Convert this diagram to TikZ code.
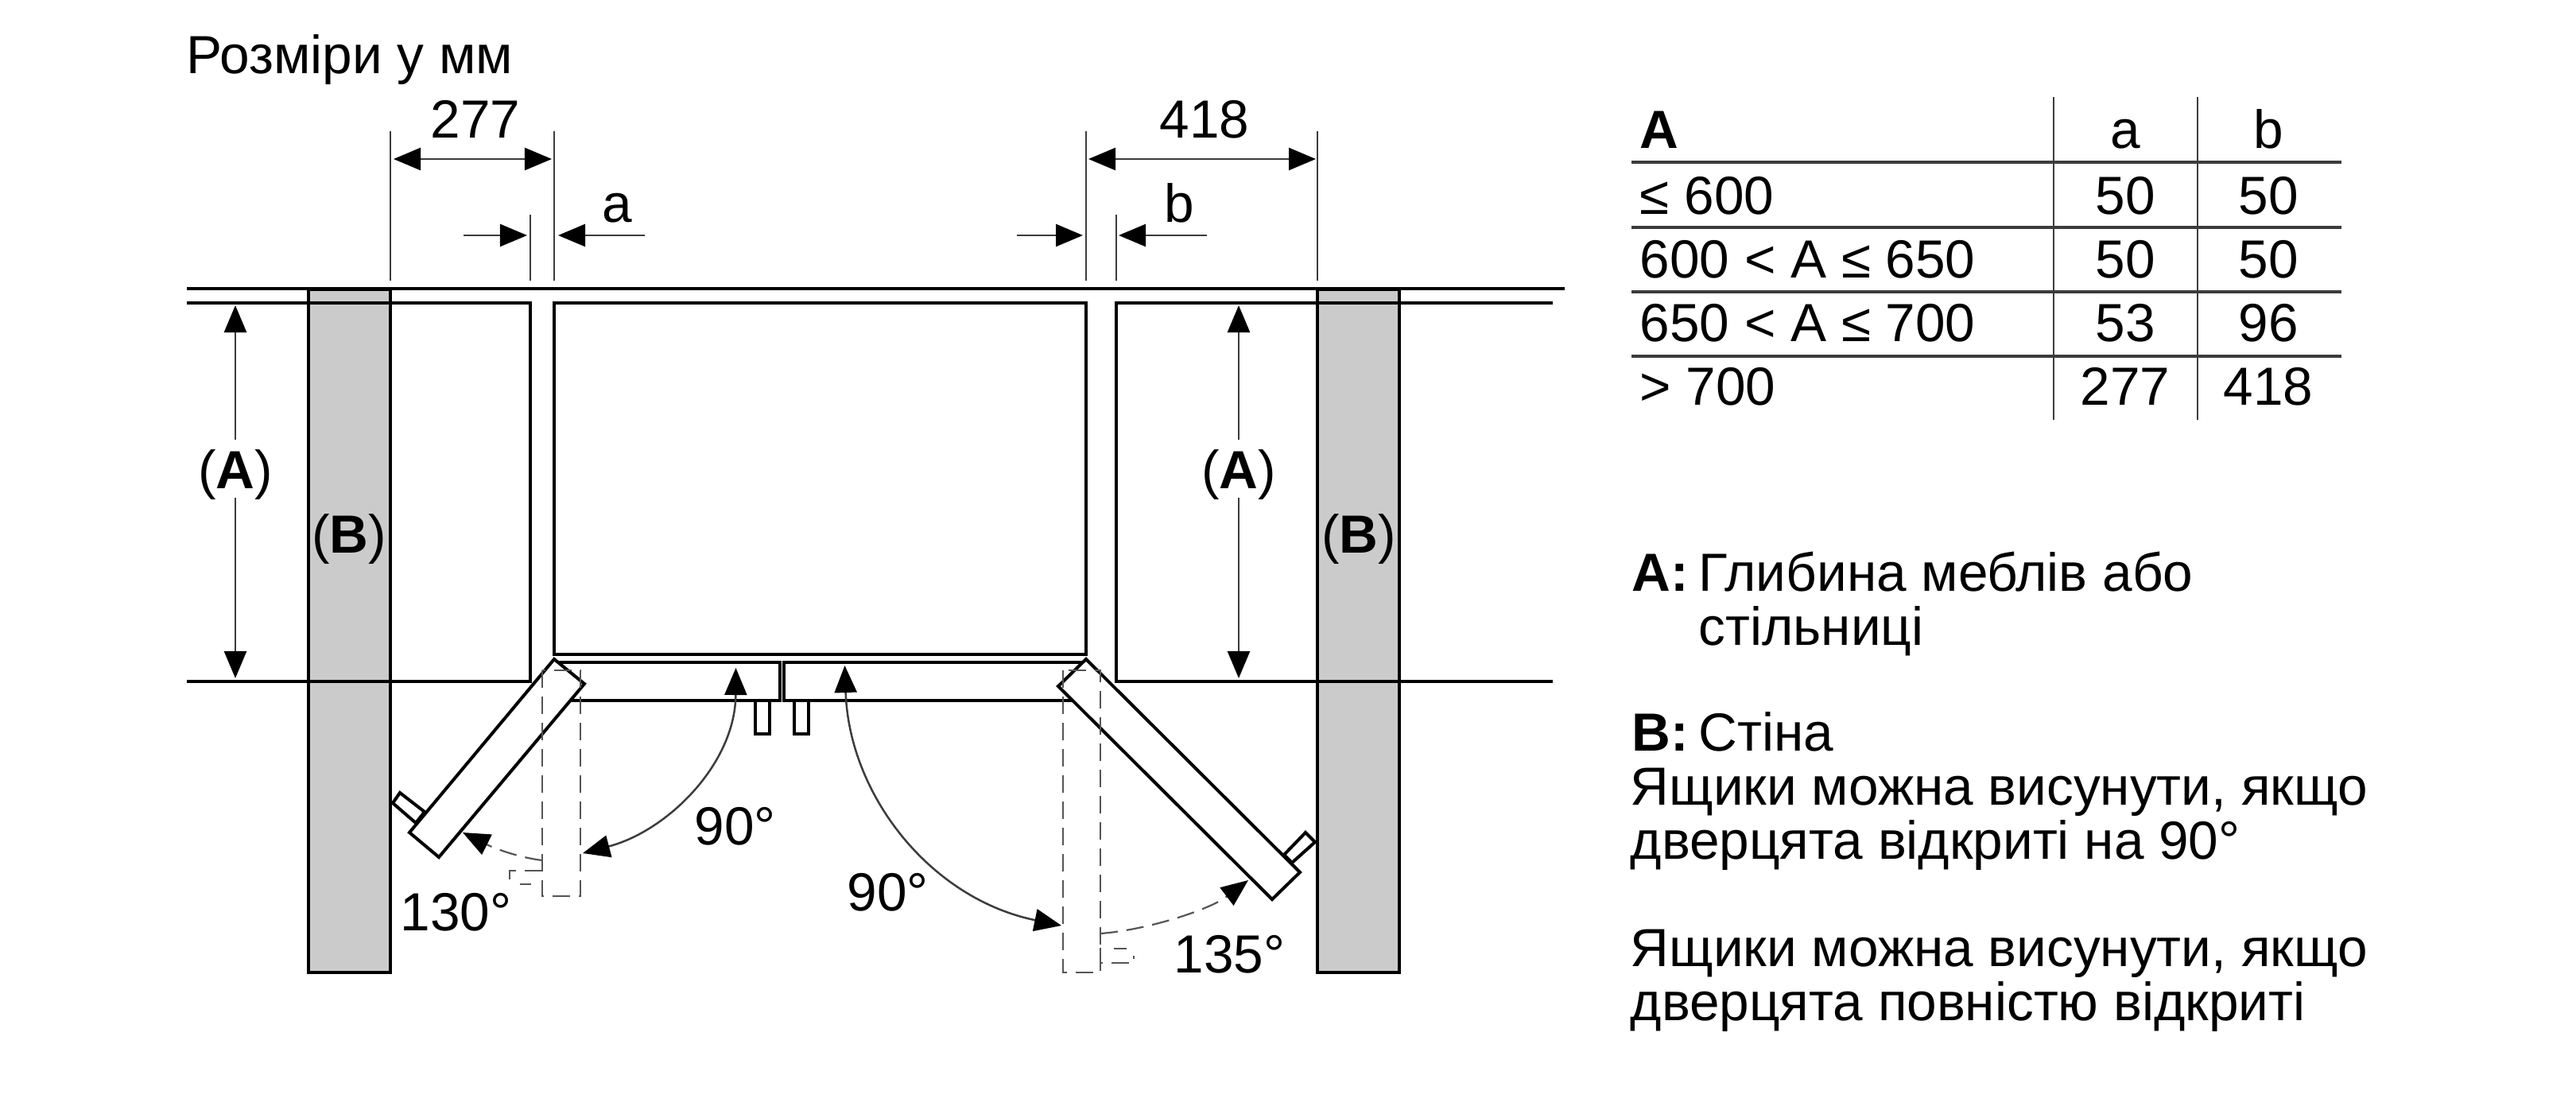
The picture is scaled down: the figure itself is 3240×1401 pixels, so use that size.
\documentclass[tikz,border=0pt]{standalone}
\usepackage{fontspec}
\setmainfont{Liberation Sans}
\usepackage{xcolor}
\usetikzlibrary{arrows.meta}
\definecolor{wallgray}{HTML}{CBCBCB}
\definecolor{dimgray}{HTML}{3C3C3C}
\definecolor{dashgray}{HTML}{555555}
\tikzset{
  bigtip/.tip={Triangle[length=0.34cm,width=0.28cm,black]},
  lbl/.style={anchor=base,inner sep=0pt,font=\fontsize{19.2}{23}\selectfont},
  lblw/.style={lbl,anchor=base west},
  heavy/.style={black,line width=0.04cm},
  wallbox/.style={heavy,fill=wallgray},
  doorbox/.style={heavy,fill=white,line join=miter},
  ext/.style={dimgray,line width=0.02cm},
  dim/.style={dimgray,line width=0.025cm,-bigtip},
  dimboth/.style={dim,bigtip-bigtip},
  ghost/.style={dashgray,line width=0.022cm,dash pattern=on 0.22cm off 0.11cm},
  rowline/.style={dimgray,line width=0.035cm}
}
\begin{document}
\begin{tikzpicture}[x=0.01cm,y=-0.01cm]
\useasboundingbox (0,0) rectangle (3240,1401);

% walls
\draw[wallbox] (388,364) rectangle (491,1223);
\draw[wallbox] (1657,364) rectangle (1760,1223);

% worktop and recess
\draw[heavy] (235,363)--(1968,363);
\draw[heavy] (235,381)--(667,381)--(667,857)--(235,857);
\draw[heavy] (1953,381)--(1404,381)--(1404,857)--(1953,857);
\draw[heavy] (697,823) rectangle (1366,381);

% closed doors and handles
\draw[heavy] (697,833) rectangle (981,881);
\draw[heavy] (986,833) rectangle (1366,881);
\draw[heavy] (950,881) rectangle (968,923);
\draw[heavy] (999,881) rectangle (1017,923);

% open doors
\draw[doorbox] (534,1021)--(503,997)--(494,1010)--(523,1035)--cycle;
\draw[doorbox] (697,829)--(735,860)--(552,1078)--(515,1047)--cycle;
\draw[doorbox] (1615,1075)--(1642,1047)--(1654,1059)--(1625,1085)--cycle;
\draw[doorbox] (1366,829)--(1331,863)--(1600,1131)--(1635,1097)--cycle;

% doors at 90 degrees
\draw[ghost] (682,843)--(682,1127)--(730,1127)--(730,843)--(682,843);
\draw[ghost] (682,1095)--(641,1095)--(641,1106);
\draw[ghost] (654,1112)--(668,1112);
\draw[ghost] (1337,843)--(1337,1223)--(1384,1223)--(1384,843)--(1337,843);
\draw[ghost] (1384,1192)--(1384,1211)--(1426,1211)--(1426,1202);
\draw[ghost] (1401,1193)--(1417,1193);

% dimensions above
\foreach \x/\ytop in {491/165,697/165,667/270,1366/165,1404/270,1657/165}{
\draw[ext] (\x,\ytop)--(\x,353);
}
\draw[dimboth] (495,200)--(694,200);
\draw[dimboth] (1369,200)--(1655,200);
\draw[dim] (583,296)--(663,296);
\draw[dim] (811,296)--(702,296);
\draw[dim] (1279,296)--(1362,296);
\draw[dim] (1518,296)--(1407,296);

% dimensions A
\foreach \x in {296,1558}{
\draw[dim] (\x,553)--(\x,384);
\draw[dim] (\x,626)--(\x,853);
}

% swing arrows
\draw[dimboth] (733,1073) .. controls (840,1045) and (925,960) .. (925.5,840);
\draw[dimboth] (1062.5,837) .. controls (1068,1000) and (1170,1130) .. (1335,1164);
\draw[ghost,-bigtip] (682,1082) .. controls (650,1078) and (620,1066) .. (582,1047);
\draw[ghost,-bigtip] (1384,1174) .. controls (1440,1170) and (1520,1145) .. (1570,1107);

% labels of the plan
\node[lblw] (title) at (234,93) {Розміри у мм};
\node[lbl] (w277) at (598,174) {277};
\node[lbl] (w418) at (1515,174) {418};
\node[lbl] (wa) at (776,280) {a};
\node[lbl] (wb) at (1483,280) {b};
\node[lbl] (depthL) at (296,615) {(\textbf{A})};
\node[lbl] (depthR) at (1558,615) {(\textbf{A})};
\node[lbl] (wallL) at (439,696) {(\textbf{B})};
\node[lbl] (wallR) at (1709,696) {(\textbf{B})};
\node[lblw] (angA) at (873,1062) {90°};
\node[lblw] (angB) at (1065,1145) {90°};
\node[lblw] (angC) at (503,1170) {130°};
\node[lblw] (angD) at (1476,1223) {135°};

% table
\foreach \y in {204,286,367,448}{
\draw[rowline] (2052,\y)--(2945,\y);
}
\foreach \x in {2583,2764}{
\draw[ext] (\x,122)--(\x,528);
}
\node[lblw] (thA) at (2062,187) {\textbf{A}};
\node[lbl] (tha) at (2673,187) {a};
\node[lbl] (thb) at (2853,187) {b};
\foreach \n/\y/\lim/\a/\b in {1/270/≤ 600/50/50,2/350/600 < A ≤ 650/50/50,3/430/650 < A ≤ 700/53/96,4/510/> 700/277/418}{
\node[lblw] (lim\n) at (2062,\y) {\lim};
\node[lbl] (cola\n) at (2673,\y) {\a};
\node[lbl] (colb\n) at (2853,\y) {\b};
}

% legend
\node[lblw] (keyA) at (2052,744) {\textbf{A:}};
\node[lblw] (txtA) at (2136,744) {Глибина меблів або};
\node[lblw] (txtA2) at (2136,812) {стільниці};
\node[lblw] (keyB) at (2052,944) {\textbf{B:}};
\node[lblw] (txtB) at (2136,944) {Стіна};
\node[lblw] (txtC) at (2050,1012) {Ящики можна висунути, якщо};
\node[lblw] (txtC2) at (2050,1080) {дверцята відкриті на 90°};
\node[lblw] (txtD) at (2050,1215) {Ящики можна висунути, якщо};
\node[lblw] (txtD2) at (2050,1283) {дверцята повністю відкриті};
\end{tikzpicture}
\end{document}
